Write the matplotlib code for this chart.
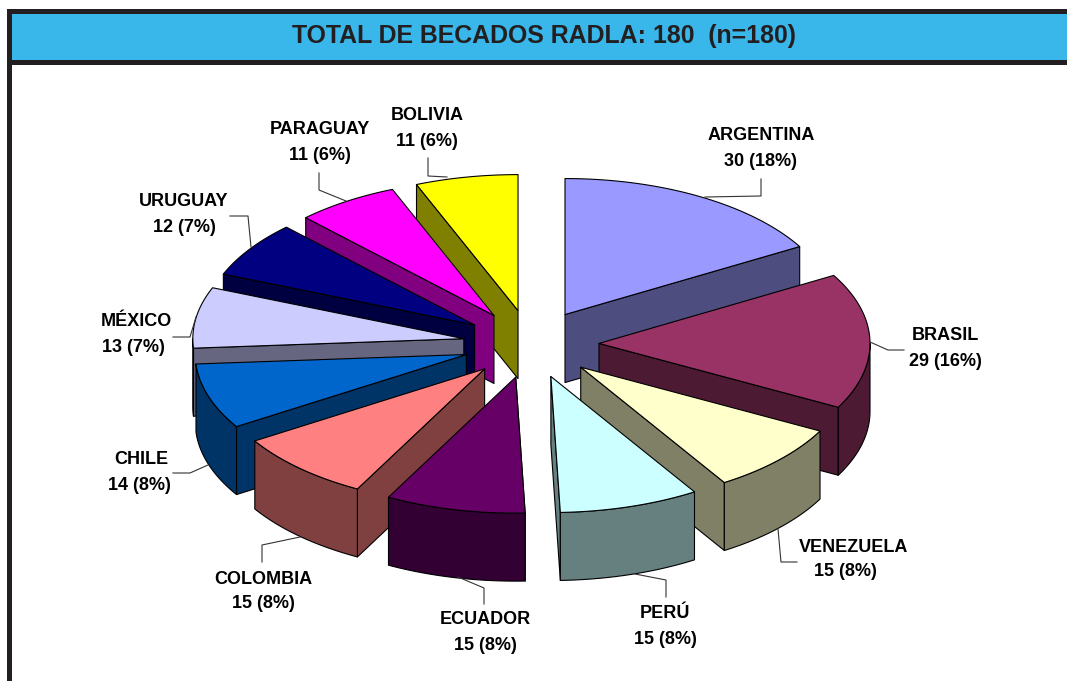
import numpy as np
import matplotlib
matplotlib.use('Agg')
import matplotlib.pyplot as plt
from matplotlib.patches import Polygon, Rectangle

paises = ["ARGENTINA", "BRASIL", "VENEZUELA", "PERÚ", "ECUADOR", "COLOMBIA",
          "CHILE", "MÉXICO", "URUGUAY", "PARAGUAY", "BOLIVIA"]
becados = [30, 29, 15, 15, 15, 15, 14, 13, 12, 11, 11]
porcentajes = [18, 16, 8, 8, 8, 8, 8, 7, 7, 6, 6]
colores = ["#9999FF", "#993366", "#FFFFCC", "#CCFFFF", "#660066", "#FF8080",
           "#0066CC", "#CCCCFF", "#000080", "#FF00FF", "#FFFF00"]
titulo = "TOTAL DE BECADOS RADLA: 180  (n=180)"

# geometria del pie, en pixeles de la imagen
cx, cy = 531, 344
rx, ry = 271, 136
ex, ey = 68, 34
prof = 68

# posicion de las etiquetas (nombre, valor) y lineas guia
pos_nombre = [(761, 135), (945, 335), (854, 547), (665, 613), (485, 620), (263, 579),
              (141, 459), (136, 321), (184, 201), (320, 130), (427, 115)]
pos_valor = [(761, 162), (945, 362), (845, 572), (665, 640), (485, 646), (263, 604),
             (139, 485), (133, 347), (184, 227), (320, 156), (427, 141)]
guias = [[(761, 179), (761, 196), (705, 197)],
         [(904, 350), (888, 350), (870, 342)],
         [(797, 562), (781, 562), (778, 529)],
         [(666, 597), (666, 580), (635, 574)],
         [(484, 604), (484, 588), (458, 577)],
         [(262, 562), (262, 545), (300, 537)],
         [(173, 473), (190, 473), (208, 465)],
         [(173, 337), (190, 337), (196, 317)],
         [(230, 216), (248, 216), (251, 247)],
         [(319, 173), (319, 190), (346, 201)],
         [(428, 158), (428, 176), (447, 177)]]

plt.rcParams['font.family'] = ['Liberation Sans', 'DejaVu Sans']

fig = plt.figure(figsize=(10.67, 6.81), dpi=100)
ax = fig.add_axes([0, 0, 1, 1])
ax.set_xlim(0, 1067)
ax.set_ylim(681, 0)
ax.axis('off')

# marco y barra del titulo
negro = "#231F20"
ax.add_patch(Rectangle((7, 9), 1070, 56, fc=negro, ec='none', zorder=1))
ax.add_patch(Rectangle((7, 9), 5, 680, fc=negro, ec='none', zorder=1))
ax.add_patch(Rectangle((12, 14), 1060, 46, fc="#39B6EA", ec='none', zorder=2))
ax.text(543.5, 36, titulo, fontsize=17.9, fontweight='bold', color=negro,
        ha='center', va='center', zorder=3)


def oscuro(color):
    return tuple(0.5 * c for c in matplotlib.colors.to_rgb(color))


def punto(x0, y0, ang):
    r = np.radians(ang)
    return x0 + rx * np.sin(r), y0 - ry * np.cos(r)


angulos = np.cumsum([0] + [v / sum(becados) * 360 for v in becados])

# de atras hacia adelante
medios = (angulos[:-1] + angulos[1:]) / 2
orden = np.argsort(-np.cos(np.radians(medios)))

z = 10
for i in orden:
    a0, a1, m = angulos[i], angulos[i + 1], medios[i]
    x0 = cx + ex * np.sin(np.radians(m))
    y0 = cy - ey * np.cos(np.radians(m))
    lado = oscuro(colores[i])
    estilo = dict(fc=lado, ec='black', lw=0.8, joinstyle='round')

    # cara radial visible
    borde = a1 if m < 180 else a0
    px, py = punto(x0, y0, borde)
    ax.add_patch(Polygon([(x0, y0), (px, py), (px, py + prof), (x0, y0 + prof)], zorder=z, **estilo))
    z += 1

    # pared exterior
    d0, d1 = max(a0, 90), min(a1, 270)
    if d1 > d0:
        t = np.linspace(d0, d1, 40)
        xs, ys = punto(x0, y0, t)
        pared = list(zip(xs, ys)) + list(zip(xs[::-1], ys[::-1] + prof))
        ax.add_patch(Polygon(pared, zorder=z, **estilo))
        z += 1

    # cara superior
    t = np.linspace(a0, a1, 60)
    xs, ys = punto(x0, y0, t)
    ax.add_patch(Polygon([(x0, y0)] + list(zip(xs, ys)), fc=colores[i], ec='black',
                         lw=0.8, joinstyle='round', zorder=z))
    z += 1

for i in range(len(paises)):
    ax.plot(*zip(*guias[i]), color='#333333', lw=0.8, zorder=z)
    ax.text(*pos_nombre[i], paises[i], fontsize=13, fontweight='bold', color='black',
            ha='center', va='center', zorder=z + 1)
    ax.text(*pos_valor[i], f"{becados[i]} ({porcentajes[i]}%)", fontsize=13, fontweight='bold',
            color='black', ha='center', va='center', zorder=z + 1)

fig.savefig('out.png', dpi=100)
